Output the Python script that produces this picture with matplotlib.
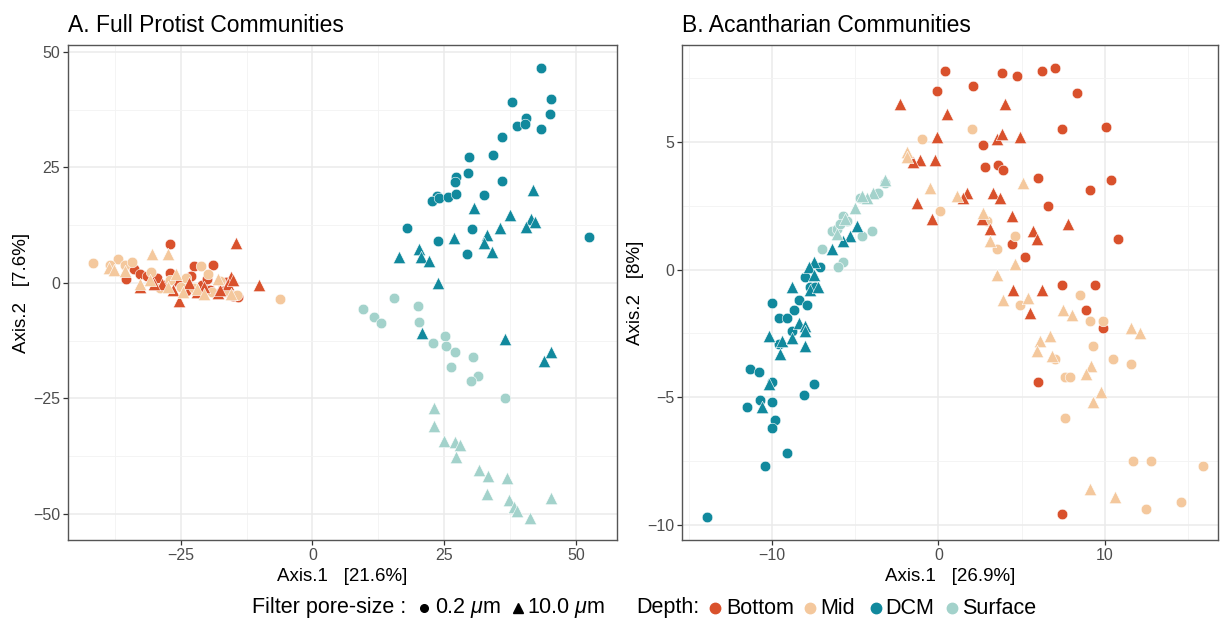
import matplotlib
matplotlib.use("Agg")
import matplotlib.pyplot as plt
from matplotlib.lines import Line2D
from matplotlib.ticker import MultipleLocator

plt.rcParams["font.family"] = ["Liberation Sans", "DejaVu Sans"]
plt.rcParams["mathtext.fontset"] = "custom"
plt.rcParams["mathtext.rm"] = "Liberation Sans"
plt.rcParams["mathtext.it"] = "Liberation Sans:italic"

# ---- ordination scores: panel A, full protist communities ----
A_BOTTOM_SMALL = [(-27.0, 8.3), (-22.4, 3.7), (-18.9, 3.8), (-33.9, 3.0), (-32.7, 2.0), (-35.3, 0.9),
                  (-31.5, 1.5), (-27.1, 2.1), (-23.1, 1.4), (-25.5, 0.2), (-21.0, -0.5), (-19.5, -1.5),
                  (-17.0, -1.0), (-14.1, -3.0), (-15.0, -2.8), (-24.0, -1.8), (-28.0, -0.5), (-29.5, 1.0),
                  (-16.5, 0.2), (-20.0, 0.8)]
A_BOTTOM_LARGE = [(-14.6, 8.7), (-10.2, -0.5), (-25.4, -4.0), (-32.8, -1.0), (-28.6, -0.3), (-15.5, 1.3),
                  (-16.0, -0.3), (-22.0, -2.0), (-18.0, -2.2), (-26.5, -1.5), (-30.0, -0.2), (-20.5, -1.0),
                  (-23.5, 0.0), (-17.5, -1.5), (-15.0, 0.5)]
A_MID_SMALL = [(-41.7, 4.3), (-37.0, 5.1), (-35.5, 3.8), (-34.3, 4.5), (-38.5, 3.8), (-30.6, 2.3),
               (-21.2, 3.7), (-19.9, 1.9), (-6.1, -3.4), (-14.4, -2.6), (-27.0, 0.5), (-25.0, -1.0),
               (-22.5, -1.2), (-19.0, -2.0), (-16.5, -2.0), (-29.0, -1.2), (-17.5, 0.3), (-24.0, 1.0)]
A_MID_LARGE = [(-30.4, 6.3), (-27.5, 6.3), (-38.6, 3.2), (-37.7, 2.7), (-32.8, -0.2), (-30.8, 0.6),
               (-25.9, 1.9), (-22.0, -1.3), (-17.9, 0.8), (-15.5, -2.5), (-20.5, -2.5), (-24.5, -2.0),
               (-27.5, -1.0), (-35.5, 2.5)]
A_DCM_SMALL = [(43.4, 46.6), (37.9, 39.1), (45.2, 39.9), (45.1, 36.6), (40.5, 35.7), (38.9, 34.0),
               (40.4, 34.3), (43.4, 33.4), (36.0, 31.5), (29.7, 27.3), (34.3, 27.6), (29.6, 23.8),
               (27.3, 22.9), (27.0, 21.8), (36.0, 22.1), (23.6, 18.8), (22.7, 17.7), (24.1, 18.3),
               (25.8, 18.5), (27.3, 19.3), (32.6, 19.0), (17.9, 11.8), (30.3, 11.7), (23.9, 9.1),
               (29.4, 6.3), (52.4, 10.0)]
A_DCM_LARGE = [(41.9, 20.2), (30.7, 16.1), (37.5, 14.6), (41.4, 13.9), (42.2, 13.2), (40.5, 12.1),
               (35.5, 11.8), (33.2, 10.3), (32.6, 8.7), (26.8, 9.6), (34.0, 6.6), (20.3, 7.3),
               (16.5, 5.6), (20.6, 5.5), (22.1, 4.8), (23.9, 0.0), (20.8, -10.8), (36.5, -12.1),
               (45.2, -14.9), (43.9, -17.0)]
A_SURF_SMALL = [(9.6, -5.6), (15.5, -3.3), (11.7, -7.3), (13.1, -8.7), (20.1, -5.1), (20.3, -8.4),
                (25.1, -11.6), (22.8, -13.0), (25.3, -13.6), (27.1, -15.0), (30.4, -16.1), (26.3, -18.3),
                (31.5, -20.1), (30.1, -21.3), (36.6, -25.0)]
A_SURF_LARGE = [(23.1, -27.1), (23.0, -31.0), (24.9, -34.3), (27.0, -34.5), (28.0, -35.1), (27.3, -37.7),
                (31.6, -40.5), (33.3, -41.9), (37.0, -42.2), (33.1, -45.7), (37.3, -47.1), (38.2, -48.6),
                (38.8, -49.5), (41.2, -50.9), (45.3, -46.7)]

# ---- ordination scores: panel B, acantharian communities ----
B_BOTTOM_SMALL = [(0.4, 7.8), (3.8, 7.7), (4.7, 7.6), (6.2, 7.8), (7.0, 7.9), (-0.1, 7.0), (2.1, 7.2),
                  (8.3, 6.9), (7.4, 5.5), (10.1, 5.6), (2.7, 4.9), (2.8, 4.0), (3.6, 4.1), (3.9, 3.9),
                  (6.0, 3.6), (10.4, 3.5), (9.1, 3.1), (6.6, 2.5), (10.8, 1.2), (4.4, 1.0), (5.2, 0.5),
                  (7.4, -0.6), (9.4, -0.6), (8.9, -1.6), (9.9, -2.3), (6.0, -4.4), (7.4, -9.6)]
B_BOTTOM_LARGE = [(-2.3, 6.5), (0.5, 6.1), (4.0, 6.5), (-0.1, 5.2), (3.5, 5.1), (3.8, 5.3), (4.9, 5.2),
                  (-1.1, 4.3), (-1.5, 4.2), (-0.2, 4.3), (-1.3, 2.6), (-0.4, 2.0), (1.7, 3.0), (1.5, 2.8),
                  (3.3, 3.0), (3.7, 2.8), (4.4, 2.1), (7.8, 1.8), (3.1, 1.6), (5.7, 1.5), (5.9, 1.2),
                  (4.5, -0.8), (6.2, -0.8), (2.6, 2.0), (5.5, -1.7)]
B_MID_SMALL = [(2.0, 5.5), (-1.0, 5.1), (0.1, 2.3), (2.9, 1.9), (4.6, 1.3), (3.5, 0.8), (8.5, -1.0),
               (4.9, -1.4), (9.1, -2.0), (9.9, -2.0), (9.3, -3.0), (10.5, -3.5), (11.6, -3.7), (7.0, -3.5),
               (7.6, -4.2), (7.9, -4.2), (7.6, -5.8), (11.7, -7.5), (12.8, -7.5), (15.9, -7.7),
               (12.5, -9.4), (14.6, -9.1)]
B_MID_LARGE = [(-1.9, 4.6), (-1.9, 4.4), (-0.5, 3.2), (1.1, 2.9), (5.1, 3.4), (2.7, 2.2), (3.1, 1.1),
               (4.6, 0.2), (3.5, -0.2), (5.4, -1.1), (3.9, -1.2), (7.5, -1.6), (8.0, -1.8), (11.6, -2.3),
               (12.1, -2.5), (6.7, -2.6), (6.1, -2.8), (5.9, -3.2), (6.8, -3.4), (9.2, -3.8), (8.9, -4.1),
               (9.8, -4.8), (9.3, -5.2), (9.1, -8.6), (10.6, -8.9)]
B_DCM_SMALL = [(-7.1, 0.1), (-8.0, -0.3), (-7.7, -0.7), (-7.4, -0.7), (-10.0, -1.3), (-8.4, -1.2),
               (-7.9, -1.4), (-8.7, -1.6), (-9.6, -1.9), (-9.1, -1.9), (-8.8, -2.4), (-9.6, -2.9),
               (-11.3, -3.9), (-10.8, -4.0), (-10.0, -4.4), (-7.5, -4.5), (-8.1, -4.9), (-10.7, -5.1),
               (-10.0, -5.2), (-11.5, -5.4), (-9.8, -5.9), (-10.0, -6.2), (-9.1, -7.2), (-10.4, -7.7),
               (-13.9, -9.7)]
B_DCM_LARGE = [(-4.9, 1.7), (-5.3, 1.3), (-5.7, 1.1), (-6.4, 0.8), (-7.5, 0.3), (-7.8, 0.1), (-7.5, -0.2),
               (-8.8, -0.7), (-7.7, -0.8), (-7.2, -0.7), (-8.4, -2.1), (-8.0, -2.2), (-8.0, -2.4),
               (-10.2, -2.6), (-9.4, -2.8), (-8.8, -2.7), (-9.5, -3.3), (-8.0, -3.0), (-10.2, -4.5),
               (-10.6, -5.4)]
B_SURF_SMALL = [(-3.2, 3.4), (-3.6, 3.0), (-4.7, 2.8), (-5.7, 2.1), (-5.5, 1.9), (-6.4, 1.5), (-6.1, 1.6),
                (-4.0, 1.5), (-4.6, 1.3), (-7.0, 0.8), (-5.7, 0.3), (-6.0, 0.1), (-5.9, 1.8)]
B_SURF_LARGE = [(-3.2, 3.5), (-3.9, 3.0), (-4.3, 2.8), (-5.0, 2.4), (-6.1, 1.4), (-4.6, 2.9), (-5.6, 2.0)]

DEPTHS = ["Bottom", "Mid", "DCM", "Surface"]
DEPTH_COLORS = ["#D9512C", "#F4C89D", "#11899D", "#A3D2CB"]
FILTER_LABELS = [r"0.2 $\mathit{\mu}$m", r"10.0 $\mathit{\mu}$m"]

PANELS = [
    dict(title="A. Full Protist Communities", xlabel="Axis.1   [21.6%]", ylabel="Axis.2   [7.6%]",
         groups=[A_BOTTOM_SMALL, A_MID_SMALL, A_DCM_SMALL, A_SURF_SMALL,
                 A_BOTTOM_LARGE, A_MID_LARGE, A_DCM_LARGE, A_SURF_LARGE],
         xlim=(-46.4, 57.8), ylim=(-55.7, 51.5), xmajor=25, ymajor=25),
    dict(title="B. Acantharian Communities", xlabel="Axis.1   [26.9%]", ylabel="Axis.2   [8%]",
         groups=[B_BOTTOM_SMALL, B_MID_SMALL, B_DCM_SMALL, B_SURF_SMALL,
                 B_BOTTOM_LARGE, B_MID_LARGE, B_DCM_LARGE, B_SURF_LARGE],
         xlim=(-15.4, 16.8), ylim=(-10.6, 8.8), xmajor=10, ymajor=5),
]

W, H = 1220, 620
fig = plt.figure(figsize=(W / 100, H / 100), dpi=100)

axes_boxes = [(68, 45, 617, 540), (682, 45, 1218, 540)]

def fx(px):
    return px / W

def fy(py):
    return 1 - py / H

for panel, (l, t, r, b) in zip(PANELS, axes_boxes):
    ax = fig.add_axes([fx(l), fy(b), (r - l) / W, (b - t) / H])
    ax.set_xlim(*panel["xlim"])
    ax.set_ylim(*panel["ylim"])
    ax.xaxis.set_major_locator(MultipleLocator(panel["xmajor"]))
    ax.yaxis.set_major_locator(MultipleLocator(panel["ymajor"]))
    ax.xaxis.set_minor_locator(MultipleLocator(panel["xmajor"] / 2))
    ax.yaxis.set_minor_locator(MultipleLocator(panel["ymajor"] / 2))
    ax.grid(True, which="major", color="#EBEBEB", lw=1.1, zorder=0)
    ax.grid(True, which="minor", color="#F3F3F3", lw=0.6, zorder=0)
    ax.set_axisbelow(True)
    ax.tick_params(which="major", length=3.5, width=0.9, color="#333333",
                   labelcolor="#4D4D4D", labelsize=11.5, pad=2)
    ax.tick_params(which="minor", length=0)
    for s in ax.spines.values():
        s.set_color("#555555")
        s.set_linewidth(1.0)

    for i, pts in enumerate(panel["groups"]):
        depth_i = i % 4
        large = i >= 4
        xs = [p[0] for p in pts]
        ys = [p[1] for p in pts]
        ax.scatter(xs, ys, s=80 if large else 58, marker="^" if large else "o",
                   color=DEPTH_COLORS[depth_i], edgecolors="white", linewidths=0.4, zorder=3)

    ax.set_title(panel["title"], loc="left", fontsize=16.5, pad=9)
    ax.set_xlabel(panel["xlabel"], fontsize=13.5, labelpad=4)
    ax.set_ylabel(panel["ylabel"], fontsize=13.5, labelpad=2)

# ---- shared bottom legend ----
LEG_Y = 608
LEG_FS = 15.5

def legend_text(x, s):
    fig.text(fx(x), fy(LEG_Y), s, fontsize=LEG_FS, ha="left", va="center")

def legend_marker(x, marker, color, size):
    fig.add_artist(Line2D([fx(x)], [fy(LEG_Y)], marker=marker, color=color, markersize=size,
                          linestyle="none", transform=fig.transFigure))

legend_text(252, "Filter pore-size :")
legend_marker(424, "o", "black", 5.5)
legend_text(435, FILTER_LABELS[0])
legend_marker(518, "^", "black", 7)
legend_text(527, FILTER_LABELS[1])

legend_text(636, "Depth:")
for xm, xt, name, col in zip([715, 810, 876, 952], [726, 820, 885, 962], DEPTHS, DEPTH_COLORS):
    legend_marker(xm, "o", col, 7.5)
    legend_text(xt, name)

fig.savefig("out.png", dpi=100, facecolor="white")
